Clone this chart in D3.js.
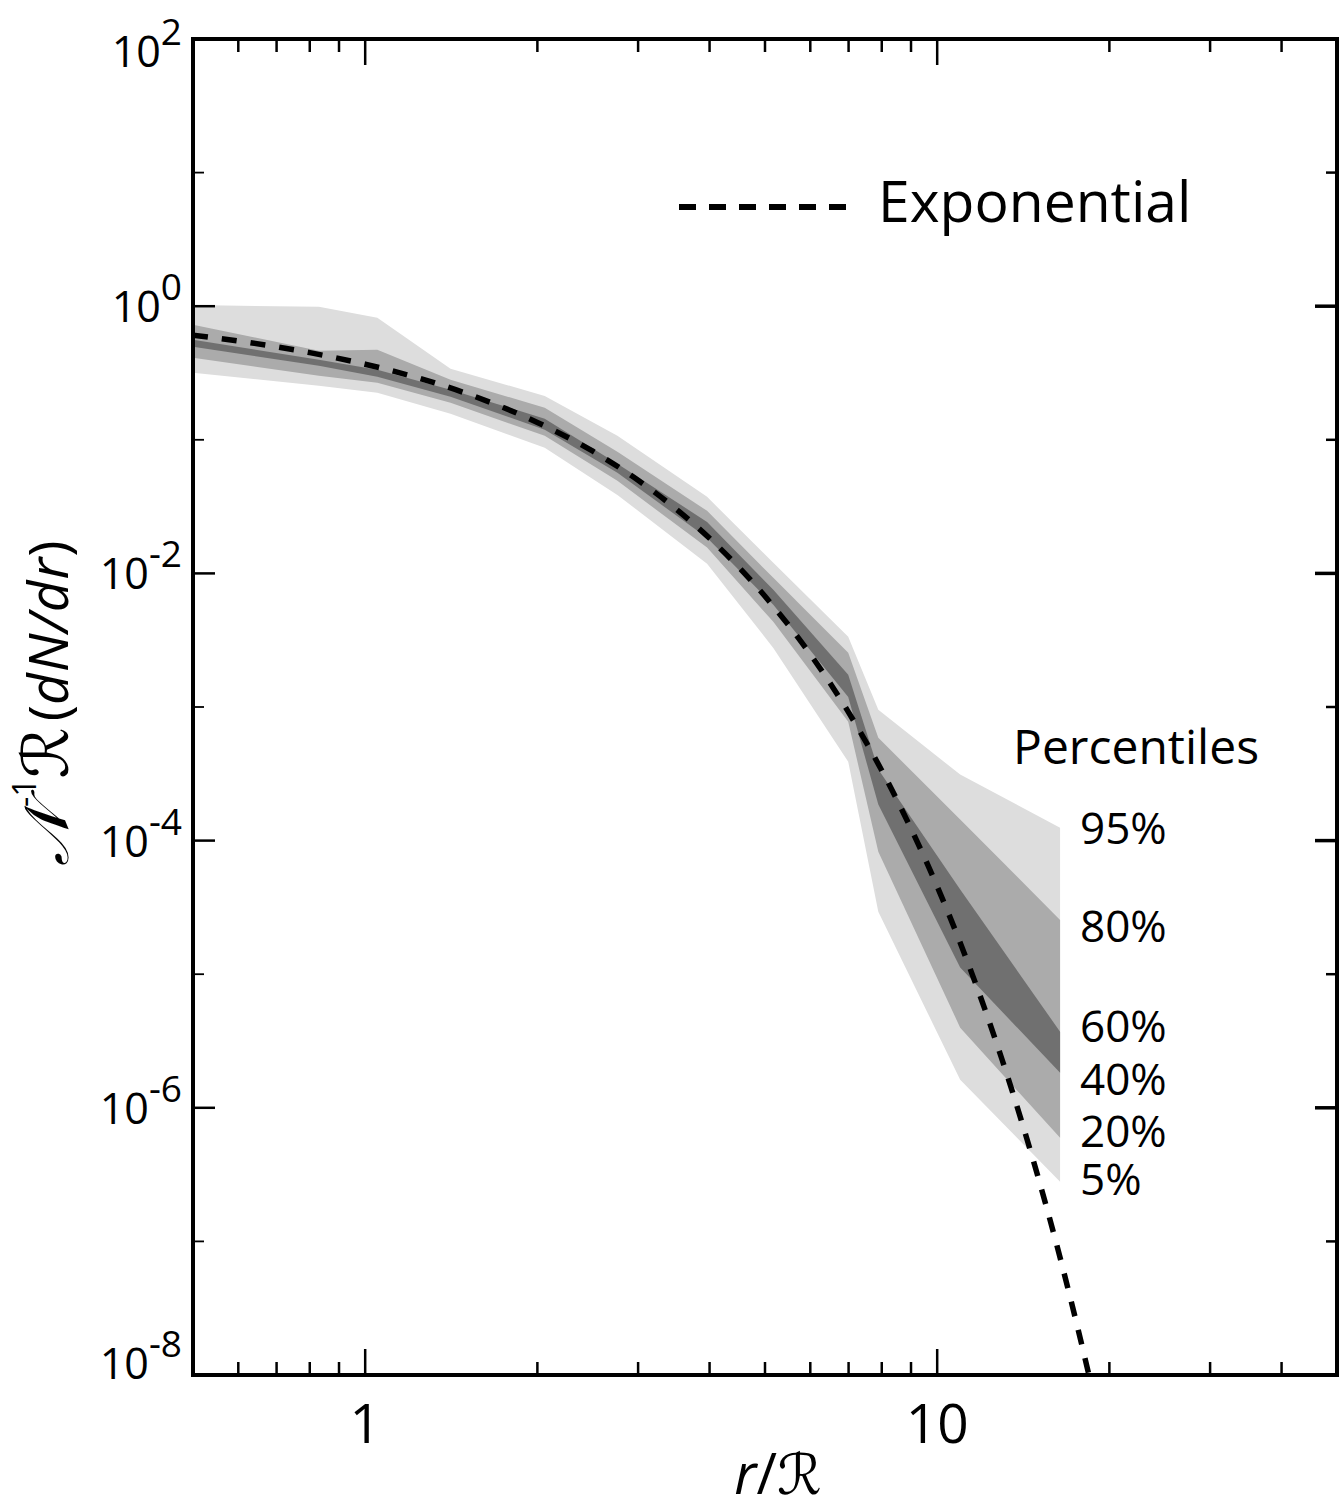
<!DOCTYPE html>
<html>
<head>
<meta charset="utf-8">
<script src="https://cdn.jsdelivr.net/npm/d3@7"></script>
<style>
  html, body { margin: 0; padding: 0; background: #fff; }
  svg { display: block; }
  text { font-family: "Open Sans", "Noto Sans", "DejaVu Sans", sans-serif; fill: #000; }
</style>
</head>
<body>
<svg id="chart" width="1339" height="1511"></svg>
<script>
// ---- data ----
const rValues = [0.5, 0.83, 1.05, 1.41, 2.06, 2.76, 3.96, 5.17, 6.99, 7.89, 10.97, 16.4];
const p95 = [1.02, 0.99, 0.819, 0.34, 0.213, 0.107, 0.0374, 0.012, 0.00335, 9.53e-4, 3.12e-4, 1.25e-4];
const p80 = [0.726, 0.464, 0.472, 0.281, 0.174, 0.0813, 0.0294, 0.00926, 0.00255, 5.88e-4, 1.44e-4, 2.55e-5];
const p60 = [0.561, 0.397, 0.335, 0.237, 0.144, 0.0661, 0.0243, 0.00754, 0.00174, 3.4e-4, 4.3e-5, 3.71e-6];
const p40 = [0.497, 0.358, 0.296, 0.21, 0.119, 0.0566, 0.0185, 0.00582, 0.00119, 1.86e-4, 1.12e-5, 1.83e-6];
const p20 = [0.411, 0.301, 0.267, 0.189, 0.107, 0.0493, 0.0156, 0.00434, 7.75e-4, 8.25e-5, 3.98e-6, 5.96e-7];
const p05 = [0.317, 0.254, 0.225, 0.157, 0.0872, 0.0387, 0.0118, 0.00277, 3.89e-4, 2.93e-5, 1.62e-6, 2.79e-7];

const expR = [0.5, 0.6, 0.7, 0.8, 1, 1.25, 1.5, 2, 2.5, 3, 3.5, 4, 5, 6, 7, 8, 9, 10, 11, 12, 13, 14, 15, 16, 17, 18, 19, 20];
const expV = [0.607, 0.549, 0.497, 0.449, 0.368, 0.287, 0.223, 0.135, 0.0821, 0.0498, 0.0302, 0.0183, 0.00674, 0.00248,
              9.12e-4, 3.35e-4, 1.23e-4, 4.54e-5, 1.67e-5, 6.14e-6, 2.26e-6, 8.3e-7, 3.06e-7, 1.13e-7, 4.14e-8, 1.52e-8, 5.6e-9, 2.06e-9];

const bandLabels = ["95%", "80%", "60%", "40%", "20%", "5%"];
const xTickLabels = [1, 10];
const yLabelExps = [2, 0, -2, -4, -6, -8];
const yDomain = [1e-8, 1e2];
const xDomain = [0.5, 50];

// ---- layout ----
const L = 193, R = 1337, T = 39, B = 1375;
const svg = d3.select("#chart");
const x = d3.scaleLog().domain(xDomain).range([L, R]);
const y = d3.scaleLog().domain(yDomain).range([B, T]);

svg.append("defs").append("clipPath").attr("id", "plotclip")
  .append("rect").attr("x", L).attr("y", T).attr("width", R - L).attr("height", B - T);

const plot = svg.append("g").attr("clip-path", "url(#plotclip)");

function band(lo, hi, color) {
  const pts = rValues.map((r, i) => ({ r, lo: lo[i], hi: hi[i] }));
  const area = d3.area().x(d => x(d.r)).y0(d => y(d.lo)).y1(d => y(d.hi)).curve(d3.curveLinear);
  plot.append("path").datum(pts).attr("d", area).attr("fill", color).attr("stroke", "none");
}
band(p05, p95, "#dddddd");
band(p20, p80, "#ababab");
band(p40, p60, "#707070");

const expPts = expR.map((r, i) => ({ r, v: expV[i] }));
plot.append("path").datum(expPts)
  .attr("d", d3.line().x(d => x(d.r)).y(d => y(d.v)).curve(d3.curveMonotoneX))
  .attr("fill", "none").attr("stroke", "#000").attr("stroke-width", 5.5)
  .attr("stroke-dasharray", "15,14");

// ---- ticks ----
const xt = x.ticks().filter(v => v > xDomain[0] * 1.001 && v < xDomain[1] * 0.999);
const isPow10 = v => Math.abs(Math.log10(v) - Math.round(Math.log10(v))) < 1e-9;
const tickG = svg.append("g").attr("stroke", "#000");
xt.forEach(v => {
  const len = isPow10(v) ? 26 : 13;
  tickG.append("line").attr("x1", x(v)).attr("x2", x(v)).attr("y1", B).attr("y2", B - len).attr("stroke-width", 2.5);
  tickG.append("line").attr("x1", x(v)).attr("x2", x(v)).attr("y1", T).attr("y2", T + len).attr("stroke-width", 2.5);
});
const yt = d3.range(-7, 2).map(e => Math.pow(10, e));
yt.forEach(v => {
  const e = Math.round(Math.log10(v));
  const major = e % 2 === 0;
  const len = major ? 22 : 11;
  tickG.append("line").attr("x1", L).attr("x2", L + len).attr("y1", y(v)).attr("y2", y(v)).attr("stroke-width", major ? 2.5 : 1.8);
  tickG.append("line").attr("x1", R).attr("x2", R - len).attr("y1", y(v)).attr("y2", y(v)).attr("stroke-width", major ? 3.5 : 2.5);
});

// frame
svg.append("rect").attr("x", L).attr("y", T).attr("width", R - L).attr("height", B - T)
  .attr("fill", "none").attr("stroke", "#000").attr("stroke-width", 4);

// ---- tick labels ----
yLabelExps.forEach(e => {
  const v = Math.pow(10, e);
  let base = y(v) + 16;
  if (e === 2) base = y(v) + 28;
  if (e === -8) base = y(v) + 4;
  const t = svg.append("text").attr("x", 182).attr("y", base).attr("text-anchor", "end").attr("font-size", 43);
  t.append("tspan").text("10");
  t.append("tspan").attr("dy", -22).attr("font-size", 37).text(String(e));
});
xTickLabels.forEach(v => {
  svg.append("text").attr("x", x(v)).attr("y", 1443).attr("text-anchor", "middle").attr("font-size", 55).text(v);
});

// ---- axis titles ----
const xt2 = svg.append("text").attr("x", 778).attr("y", 1494).attr("text-anchor", "middle").attr("font-size", 56);
xt2.append("tspan").attr("font-style", "italic").text("r");
xt2.append("tspan").text("/");
xt2.append("tspan").attr("font-family", "DejaVu Serif, DejaVu Sans, serif").attr("font-style", "italic").text("ℛ");

const yt2 = svg.append("text").attr("transform", "translate(68,866) rotate(-90)").attr("font-size", 55);
yt2.append("tspan").attr("font-family", "DejaVu Serif, DejaVu Sans, serif").attr("font-style", "italic").attr("font-size", 62).text("𝒩");
yt2.append("tspan").attr("dy", -32).attr("font-size", 32).text("-1");
yt2.append("tspan").attr("dy", 32).attr("font-family", "DejaVu Serif, DejaVu Sans, serif").attr("font-style", "italic").attr("font-size", 64).text("ℛ");
yt2.append("tspan").attr("dx", 6).text("(");
yt2.append("tspan").attr("font-style", "italic").attr("letter-spacing", 1).text("dN/dr");
yt2.append("tspan").text(")");

// ---- legend ----
svg.append("line").attr("x1", 679).attr("x2", 846).attr("y1", 207).attr("y2", 207)
  .attr("stroke", "#000").attr("stroke-width", 6).attr("stroke-dasharray", "17,13");
svg.append("text").attr("x", 878).attr("y", 222).attr("font-size", 57).text("Exponential");

// ---- percentile labels ----
svg.append("text").attr("x", 1013).attr("y", 764).attr("font-size", 48).text("Percentiles");
const labelY = [844, 942, 1042, 1095, 1147, 1195];
bandLabels.forEach((s, i) => {
  svg.append("text").attr("x", 1080).attr("y", labelY[i]).attr("font-size", 44).text(s);
});
</script>
</body>
</html>
